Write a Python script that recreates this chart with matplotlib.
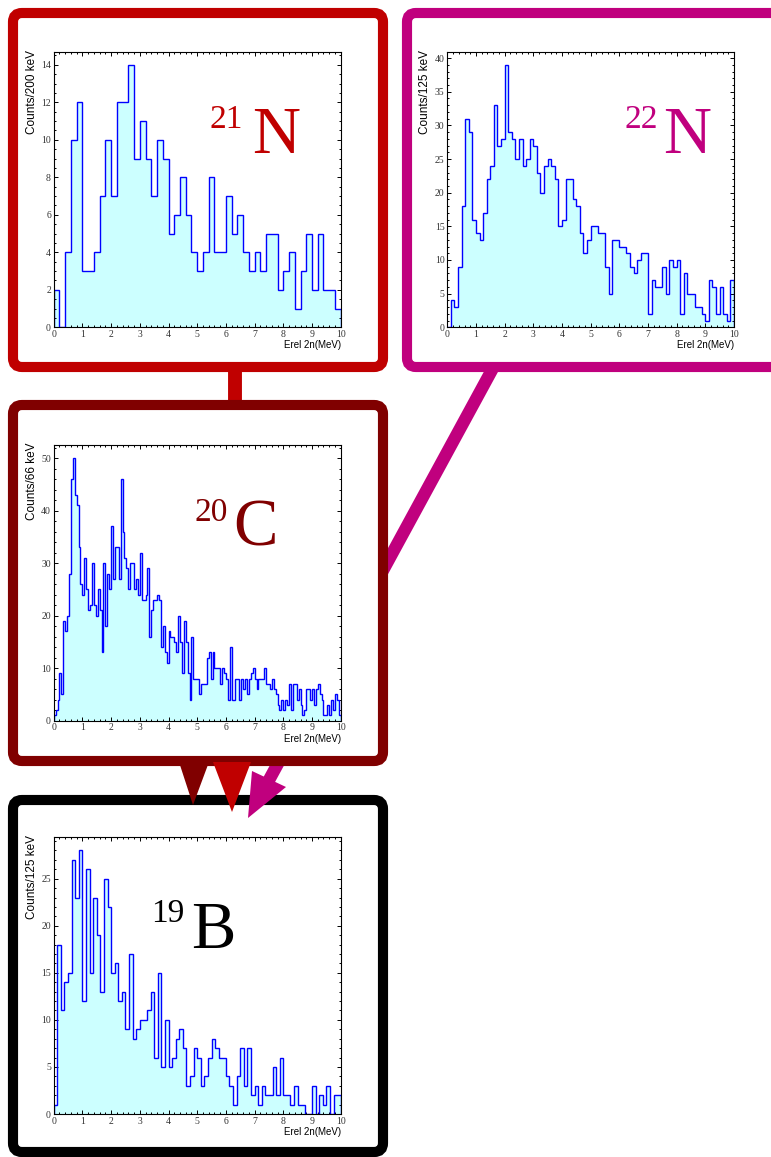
import numpy as np
import matplotlib
matplotlib.use("Agg")
import matplotlib.pyplot as plt
from matplotlib.patches import FancyBboxPatch, Polygon
from matplotlib.ticker import MultipleLocator

# counts per bin (0-10 MeV)
n21_counts = [2, 0, 4, 10, 12, 3, 3, 4, 7, 10, 7, 12, 12, 14, 9, 11, 9, 7, 10, 9,
              5, 6, 8, 6, 4, 3, 4, 8, 4, 4, 7, 5, 6, 4, 3, 4, 3, 5, 5, 2,
              3, 4, 1, 3, 5, 2, 5, 2, 2, 1]
n22_counts = [0, 4, 3, 9, 18, 31, 29, 16, 14, 13, 17, 22, 24, 33, 27, 28, 39, 29, 28, 25,
              28, 24, 25, 28, 27, 23, 20, 24, 25, 24, 22, 15, 16, 22, 22, 19, 18, 14, 11, 13,
              15, 15, 14, 14, 9, 5, 13, 13, 12, 12, 11, 9, 8, 10, 11, 11, 2, 7, 6, 6,
              9, 5, 10, 9, 10, 2, 8, 5, 5, 3, 3, 2, 1, 7, 6, 2, 6, 2, 1, 7]
c20_counts = [1, 2, 4, 9, 5, 19, 17, 20, 28, 46, 50, 43, 41, 33, 26,
              24, 31, 25, 21, 22, 30, 22, 20, 25, 21, 13, 30, 18, 28, 25,
              37, 27, 33, 33, 27, 46, 36, 31, 29, 25, 30, 30, 25, 27, 24,
              32, 23, 23, 24, 29, 16, 21, 23, 23, 24, 23, 14, 18, 13, 11,
              17, 16, 16, 15, 13, 20, 15, 9, 19, 15, 9, 4, 16, 8, 8,
              8, 5, 7, 7, 7, 12, 13, 8, 13, 10, 10, 10, 7, 10, 9,
              8, 4, 14, 4, 4, 8, 8, 4, 8, 6, 8, 5, 8, 9, 10,
              8, 6, 8, 8, 8, 10, 7, 7, 6, 8, 6, 5, 3, 2, 4,
              2, 4, 3, 7, 2, 7, 7, 4, 6, 3, 1, 2, 6, 6, 4,
              6, 3, 6, 7, 5, 4, 1, 1, 3, 1, 4, 2, 5, 4, 1]
b19_counts = [1, 18, 11, 14, 15, 27, 23, 28, 12, 26, 15, 23, 19, 13, 25, 22, 15, 16, 12, 13,
              9, 17, 8, 9, 10, 10, 11, 13, 6, 15, 5, 10, 5, 6, 8, 9, 7, 3, 4, 7,
              6, 3, 4, 6, 8, 7, 6, 6, 4, 3, 1, 4, 7, 3, 7, 2, 3, 1, 3, 2,
              2, 5, 2, 6, 2, 2, 1, 3, 1, 1, 0, 0, 3, 0, 2, 1, 3, 0, 2, 2]

ylabels = ["Counts/200 keV", "Counts/125 keV", "Counts/66 keV", "Counts/125 keV"]
mass = ["21", "22", "20", "19"]
element = ["N", "N", "C", "B"]

RED = "#c00000"
MAG = "#c0007e"
DRED = "#800000"
BLK = "#000000"

W, H = 771, 1157
fig = plt.figure(figsize=(W / 100, H / 100), dpi=100)
bg = fig.add_axes([0, 0, 1, 1])
bg.set_xlim(0, W)
bg.set_ylim(H, 0)
bg.axis("off")

# connectors behind the boxes
bg.plot([235, 235], [360, 410], color=RED, lw=10, solid_capstyle="butt", zorder=1)
bg.plot([493, 269], [368, 780], color=MAG, lw=9, solid_capstyle="butt", zorder=1)


def box(x0, y0, x1, y1, col):
    p = FancyBboxPatch((x0, y0), x1 - x0, y1 - y0,
                       boxstyle="round,pad=0,rounding_size=9",
                       lw=7.3, ec=col, fc="white", zorder=2)
    bg.add_patch(p)


box(13, 13, 383, 367, RED)
box(407, 13, 800, 367, MAG)
box(13, 405, 383, 761, DRED)
box(13, 800, 383, 1152, BLK)

# arrow heads onto the 19B box
bg.add_patch(Polygon([(179, 762), (209, 762), (193, 805)], closed=True, fc=DRED, ec="none", zorder=3))
bg.add_patch(Polygon([(213, 762), (251, 762), (232, 812)], closed=True, fc=RED, ec="none", zorder=3))
bg.add_patch(Polygon([(252, 771), (286, 787), (248, 818)], closed=True, fc=MAG, ec="none", zorder=3))

panels = [
    # x0, y0, x1, y1 (pixels), counts, y major, y minor, text colour, label pos
    (53.7, 51.7, 340.7, 327.3, n21_counts, 2, 0.5, RED, (210, 128, 252, 153)),
    (447.3, 51.7, 734.0, 327.3, n22_counts, 5, 1, MAG, (624, 128, 663, 153)),
    (53.7, 445.0, 340.7, 720.7, c20_counts, 10, 2, DRED, (195, 521, 233, 546)),
    (53.7, 837.3, 340.7, 1114.0, b19_counts, 5, 1, BLK, (151, 922, 191, 948)),
]

for i, (x0, y0, x1, y1, counts, ymaj, ymin, col, tpos) in enumerate(panels):
    ax = fig.add_axes([x0 / W, 1 - y1 / H, (x1 - x0) / W, (y1 - y0) / H])
    vals = np.array(counts, dtype=float)
    edges = np.linspace(0, 10, len(vals) + 1)
    ax.stairs(vals, edges, fill=True, color="#ccffff", zorder=1)
    ax.stairs(vals, edges, color="#0000ff", lw=1.0, zorder=2)
    ax.set_xlim(0, 10)
    ax.set_ylim(0, 1.05 * vals.max())
    ax.xaxis.set_major_locator(MultipleLocator(1))
    ax.xaxis.set_minor_locator(MultipleLocator(0.2))
    ax.yaxis.set_major_locator(MultipleLocator(ymaj))
    ax.yaxis.set_minor_locator(MultipleLocator(ymin))
    ax.tick_params(which="both", direction="in", top=True, right=True,
                   labelsize=7, pad=2, width=0.7, labelcolor="#333333")
    ax.tick_params(which="major", length=3.2)
    ax.tick_params(which="minor", length=1.7)
    for lab in ax.get_xticklabels() + ax.get_yticklabels():
        lab.set_fontfamily("Liberation Serif")
    for s in ax.spines.values():
        s.set_linewidth(0.8)

    fig.text((x0 - 22) / W, 1 - (y0 - 2) / H, ylabels[i], rotation=90,
             ha="center", va="top", fontsize=8.5, family="Liberation Sans")
    fig.text(x1 / W, 1 - (y1 + 18) / H, "Erel 2n(MeV)",
             ha="right", va="center", fontsize=7, family="Liberation Sans")

    sx, sy, ex, ey = tpos
    fig.text(sx / W, 1 - sy / H, mass[i], ha="left", va="baseline",
             fontsize=24, color=col, family="Liberation Serif")
    fig.text(ex / W, 1 - ey / H, element[i], ha="left", va="baseline",
             fontsize=48, color=col, family="Liberation Serif")

fig.savefig("out.png", dpi=100)
